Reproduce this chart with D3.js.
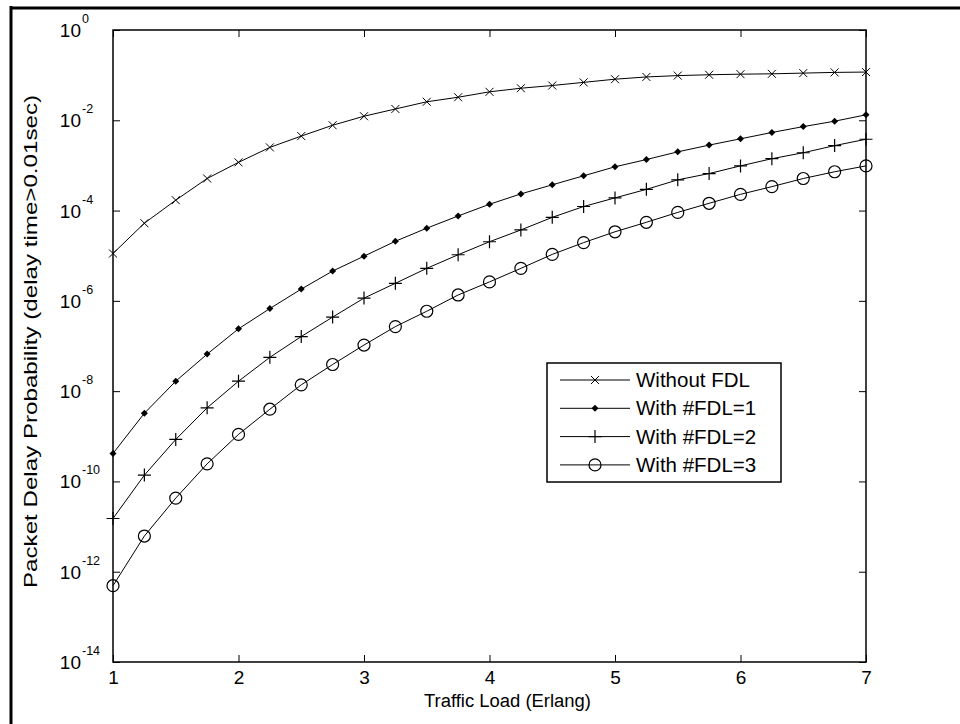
<!DOCTYPE html>
<html>
<head>
<meta charset="utf-8">
<script src="https://cdn.jsdelivr.net/npm/d3@7"></script>
<style>
  html, body { margin: 0; padding: 0; background: #fff; }
  svg { display: block; }
  text { font-family: "Liberation Sans", Arial, Helvetica, sans-serif; fill: #000; }
</style>
</head>
<body>
<svg id="chart" width="960" height="724"></svg>
<script>
// ---------- data ----------
const trafficLoad = [1, 1.25, 1.5, 1.75, 2, 2.25, 2.5, 2.75, 3, 3.25, 3.5, 3.75, 4,
                     4.25, 4.5, 4.75, 5, 5.25, 5.5, 5.75, 6, 6.25, 6.5, 6.75, 7];

const withoutFDL = [1.12e-5, 5.25e-5, 1.70e-4, 5.13e-4, 1.17e-3, 2.51e-3, 4.47e-3, 7.76e-3,
                    0.0123, 0.0178, 0.0257, 0.0324, 0.0427, 0.0513, 0.0589, 0.0692, 0.0813,
                    0.0912, 0.0977, 0.102, 0.105, 0.107, 0.111, 0.115, 0.117];

const withFDL1 = [4.17e-10, 3.24e-9, 1.66e-8, 6.61e-8, 2.40e-7, 6.76e-7, 1.82e-6, 4.57e-6,
                  9.77e-6, 2.09e-5, 4.07e-5, 7.59e-5, 1.38e-4, 2.34e-4, 3.72e-4, 5.89e-4,
                  9.33e-4, 1.35e-3, 2.00e-3, 2.82e-3, 3.89e-3, 5.37e-3, 7.24e-3, 9.55e-3, 1.32e-2];

const withFDL2 = [1.51e-11, 1.38e-10, 8.51e-10, 4.27e-9, 1.66e-8, 5.62e-8, 1.62e-7, 4.37e-7,
                  1.15e-6, 2.45e-6, 5.25e-6, 1.05e-5, 2.04e-5, 3.72e-5, 7.08e-5, 1.23e-4,
                  1.91e-4, 2.95e-4, 4.79e-4, 6.61e-4, 9.77e-4, 1.41e-3, 1.91e-3, 2.75e-3, 3.80e-3];

const withFDL3 = [4.90e-13, 6.17e-12, 4.27e-11, 2.45e-10, 1.10e-9, 3.98e-9, 1.38e-8, 3.89e-8,
                  1.05e-7, 2.69e-7, 5.89e-7, 1.35e-6, 2.63e-6, 5.25e-6, 1.07e-5, 1.95e-5,
                  3.39e-5, 5.50e-5, 9.12e-5, 1.45e-4, 2.29e-4, 3.39e-4, 5.13e-4, 7.24e-4, 9.77e-4];

const seriesNames = ["Without FDL", "With #FDL=1", "With #FDL=2", "With #FDL=3"];
const seriesMarkers = ["x", "dot", "plus", "circle"];

const xTicks = [1, 2, 3, 4, 5, 6, 7];
const yTickExponents = [0, -2, -4, -6, -8, -10, -12, -14];

const xLabel = "Traffic Load (Erlang)";
const yLabel = "Packet Delay Probability (delay time>0.01sec)";

// ---------- layout ----------
const svg = d3.select("#chart");
const plot = { left: 113, right: 866, top: 30, bottom: 662 };

const x = d3.scaleLinear().domain([1, 7]).range([plot.left, plot.right]);
const y = d3.scaleLog().domain([1e-14, 1]).range([plot.bottom, plot.top]);

// outer frame (left and top edges visible)
svg.append("line").attr("x1", 11).attr("x2", 11).attr("y1", 6).attr("y2", 724)
  .attr("stroke", "#000").attr("stroke-width", 3);
svg.append("line").attr("x1", 10).attr("x2", 960).attr("y1", 8).attr("y2", 8)
  .attr("stroke", "#000").attr("stroke-width", 3);

// axes (ticks inward)
const tickLen = 7;
const yTickVals = yTickExponents.map(e => Math.pow(10, e));

const gx = svg.append("g").attr("transform", `translate(0,${plot.bottom})`)
  .call(d3.axisBottom(x).tickValues(xTicks).tickSize(-tickLen).tickFormat(d3.format("d")).tickPadding(9));
const gxTop = svg.append("g").attr("transform", `translate(0,${plot.top})`)
  .call(d3.axisTop(x).tickValues(xTicks).tickSize(-tickLen).tickFormat(""));
const gy = svg.append("g").attr("transform", `translate(${plot.left},0)`)
  .call(d3.axisLeft(y).tickValues(yTickVals).tickSize(-tickLen).tickFormat(""));
const gyR = svg.append("g").attr("transform", `translate(${plot.right},0)`)
  .call(d3.axisRight(y).tickValues(yTickVals).tickSize(-tickLen).tickFormat(""));

[gx, gxTop, gy, gyR].forEach(g => {
  g.select(".domain").remove();
  g.selectAll("line").attr("stroke", "#000").attr("stroke-width", 1);
});
gx.selectAll("text").attr("font-size", 19).attr("font-family", "Liberation Sans, Arial, sans-serif").attr("fill", "#000");

// plot box
svg.append("rect")
  .attr("x", plot.left).attr("y", plot.top)
  .attr("width", plot.right - plot.left).attr("height", plot.bottom - plot.top)
  .attr("fill", "none").attr("stroke", "#000").attr("stroke-width", 1.5);

// y tick labels 10^n
const yLab = svg.append("g");
yTickExponents.forEach(e => {
  const yy = y(Math.pow(10, e));
  yLab.append("text").attr("x", 81).attr("y", yy + 7)
    .attr("text-anchor", "end").attr("font-size", 19).text("10");
  yLab.append("text").attr("x", 82).attr("y", yy - 7)
    .attr("text-anchor", "start").attr("font-size", 12.5).text(e === 0 ? "0" : "-" + Math.abs(e));
});

// axis titles
svg.append("text").attr("x", 424).attr("y", 707)
  .attr("text-anchor", "start").attr("font-size", 18)
  .attr("textLength", 167).attr("lengthAdjust", "spacingAndGlyphs").text(xLabel);
svg.append("text")
  .attr("transform", `translate(37,588) rotate(-90)`)
  .attr("text-anchor", "start").attr("font-size", 17.5)
  .attr("textLength", 493).attr("lengthAdjust", "spacingAndGlyphs").text(yLabel);

// markers
function drawMarker(g, type, cx, cy) {
  if (type === "x") {
    const s = 4;
    g.append("path").attr("d", `M${cx - s},${cy - s}L${cx + s},${cy + s}M${cx - s},${cy + s}L${cx + s},${cy - s}`)
      .attr("stroke", "#000").attr("stroke-width", 1).attr("fill", "none");
  } else if (type === "dot") {
    const s = 3.5;
    g.append("path").attr("d", `M${cx},${cy - s}L${cx + s},${cy}L${cx},${cy + s}L${cx - s},${cy}Z`)
      .attr("fill", "#000").attr("stroke", "none");
  } else if (type === "plus") {
    const s = 6.5;
    g.append("path").attr("d", `M${cx - s},${cy}L${cx + s},${cy}M${cx},${cy - s}L${cx},${cy + s}`)
      .attr("stroke", "#000").attr("stroke-width", 1.2).attr("fill", "none");
  } else if (type === "circle") {
    g.append("circle").attr("cx", cx).attr("cy", cy).attr("r", 6)
      .attr("fill", "none").attr("stroke", "#000").attr("stroke-width", 1.2);
  }
}

const allSeries = [withoutFDL, withFDL1, withFDL2, withFDL3];
const line = d3.line().x(d => x(d[0])).y(d => y(d[1]));

allSeries.forEach((vals, i) => {
  const pts = trafficLoad.map((t, k) => [t, vals[k]]);
  const g = svg.append("g");
  g.append("path").attr("d", line(pts)).attr("fill", "none")
    .attr("stroke", "#000").attr("stroke-width", 1);
  pts.forEach(p => drawMarker(g, seriesMarkers[i], x(p[0]), y(p[1])));
});

// legend
const legend = svg.append("g");
const lg = { x: 547, y: 363, w: 234, h: 119 };
legend.append("rect").attr("x", lg.x).attr("y", lg.y).attr("width", lg.w).attr("height", lg.h)
  .attr("fill", "#fff").attr("stroke", "#000").attr("stroke-width", 1.5);
seriesNames.forEach((name, i) => {
  const yy = lg.y + 17 + i * 28.3;
  legend.append("line").attr("x1", lg.x + 13).attr("x2", lg.x + 83).attr("y1", yy).attr("y2", yy)
    .attr("stroke", "#000").attr("stroke-width", 1);
  drawMarker(legend, seriesMarkers[i], lg.x + 48, yy);
  legend.append("text").attr("x", lg.x + 89).attr("y", yy + 7)
    .attr("font-size", 20.5).text(name);
});
</script>
</body>
</html>
